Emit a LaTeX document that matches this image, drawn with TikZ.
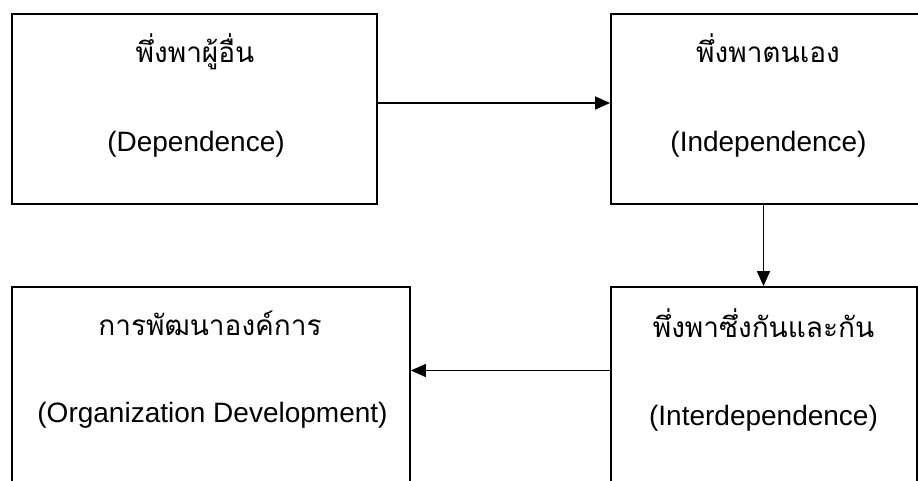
\documentclass[tikz,border=0pt]{standalone}
\usepackage{fontspec}
\setmainfont{Liberation Sans}
\newfontfamily\thaifont[Script=Thai]{Loma}
\usetikzlibrary{arrows.meta}
\begin{document}
\begin{tikzpicture}[x=1pt,y=-1pt,
  box/.style={draw=black, line width=1.8pt, rectangle, inner sep=0pt},
  thailabel/.style={font=\thaifont\fontsize{28}{32}\selectfont, anchor=base, inner sep=0pt},
  englabel/.style={font=\fontsize{28}{32}\selectfont, anchor=base, inner sep=0pt},
  conn/.style={draw=black, line width=1.4pt, -{Triangle[length=15pt,width=13pt]}}]
\useasboundingbox (0,0) rectangle (918,481);
\clip (0,0) rectangle (918,481);

% the four stages
\node[box, minimum width=365pt, minimum height=190pt] (b1) at (194.5,109) {};
\node[box, minimum width=314pt, minimum height=190pt] (b2) at (768,109) {};
\node[box, minimum width=398pt, minimum height=213pt] (b3) at (211,393.5) {};
\node[box, minimum width=306pt, minimum height=213pt] (b4) at (764,393.5) {};

% labels
\node[thailabel] (t1) at (195,63) {พึ่งพาผู้อื่น};
\node[englabel] (e1) at (196,152) {(Dependence)};
\node[thailabel] (t2) at (768,63) {พึ่งพาตนเอง};
\node[englabel] (e2) at (768.5,152) {(Independence)};
\node[thailabel] (t3) at (210,335) {การพัฒนาองค์การ};
\node[englabel] (e3) at (212.5,422) {(Organization Development)};
\node[thailabel] (t4) at (763.5,337) {พึ่งพาซึ่งกันและกัน};
\node[englabel] (e4) at (763.5,425) {(Interdependence)};

% connectors
\coordinate (row1) at (0,103);
\coordinate (row2) at (0,370.5);
\coordinate (col2) at (763.5,0);
\draw[conn] (b1.east |- row1) -- (b2.west |- row1);
\draw[conn] (b2.south -| col2) -- (b4.north -| col2);
\draw[conn] (b4.west |- row2) -- (b3.east |- row2);
\end{tikzpicture}
\end{document}
